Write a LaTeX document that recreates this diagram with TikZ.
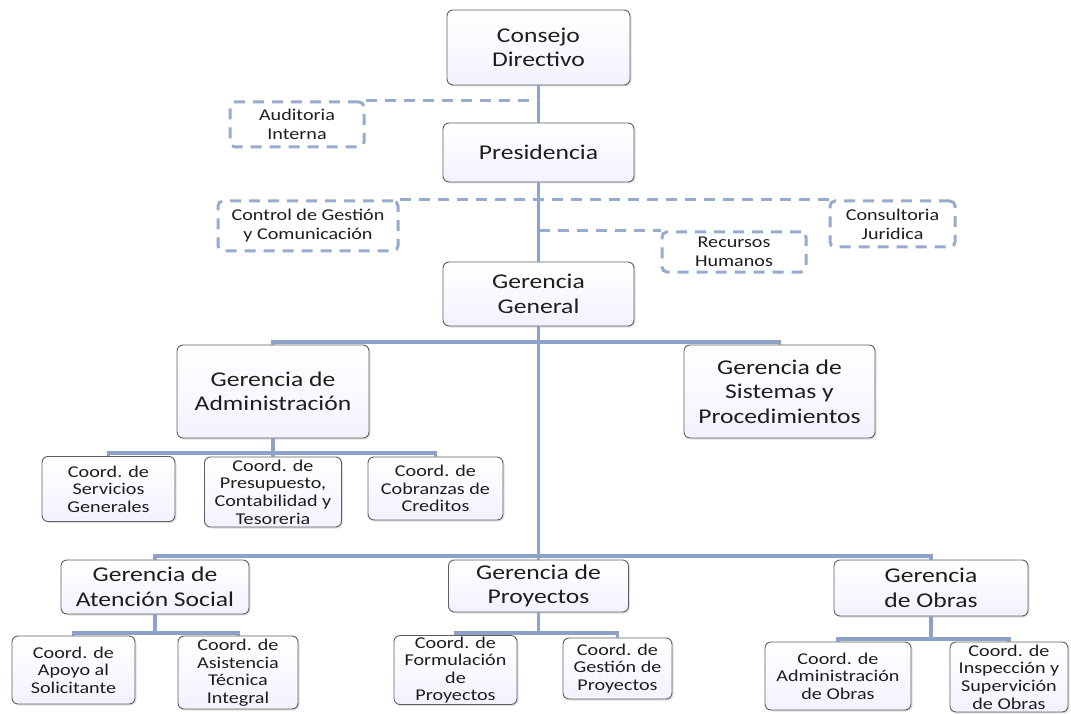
\documentclass[tikz,border=0pt]{standalone}
\usepackage{fontspec}
\setmainfont[FakeStretch=1.22]{Carlito}
\usetikzlibrary{shadows}
\definecolor{linea}{RGB}{140,162,198}
\definecolor{tratto}{RGB}{150,172,206}
\definecolor{bordo}{RGB}{95,95,95}
\definecolor{testo}{RGB}{30,30,30}
\tikzset{
  ufficio/.style={draw=bordo, line width=0.9pt, rounded corners=6pt,
    top color=white, bottom color=blue!5!white, align=center, inner sep=1pt,
    text=testo, drop shadow={shadow xshift=1.5pt, shadow yshift=-1.5pt, opacity=0.25}},
  grande/.style={ufficio, font=\fontsize{21}{24.5}\selectfont},
  piccolo/.style={ufficio, font=\fontsize{16.5}{17.6}\selectfont},
  staff/.style={draw=tratto, line width=3pt, dash pattern=on 11pt off 8pt,
    rounded corners=5pt, fill=white, align=center, inner sep=1pt, text=testo,
    font=\fontsize{16.5}{19}\selectfont},
  ramo/.style={draw=linea, line width=3.5pt},
  ramostaff/.style={draw=tratto, line width=3pt, dash pattern=on 11pt off 8pt},
}
\begin{document}
\begin{tikzpicture}[x=1pt, y=-1pt]
  \useasboundingbox (0,0) rectangle (1071,714);
  % direzione
  \node[grande, minimum width=183, minimum height=75] (consejo) at (538.5,47.5) {Consejo\\Directivo};
  \node[grande, minimum width=191, minimum height=59] (presid) at (538.5,152.5) {Presidencia};
  \node[grande, minimum width=191, minimum height=64] (gergen) at (538.5,294) {Gerencia\\General};
  % staff
  \node[staff, minimum width=134, minimum height=45] (audit) at (297,124.5) {Auditoria\\Interna};
  \node[staff, minimum width=180, minimum height=50] (control) at (308,226) {Control de Gestión\\y Comunicación};
  \node[staff, minimum width=125, minimum height=46] (juridica) at (892.5,224) {Consultoria\\Juridica};
  \node[staff, minimum width=144, minimum height=40] (rrhh) at (734,252) {Recursos\\Humanos};
  % gerencie
  \node[grande, minimum width=192, minimum height=93] (geradm) at (273,391.5) {Gerencia de\\Administración};
  \node[grande, minimum width=191, minimum height=93] (gersis) at (779.5,391.5) {Gerencia de\\Sistemas y\\Procedimientos};
  \node[grande, minimum width=188, minimum height=54] (gerate) at (155,587) {Gerencia de\\Atención Social};
  \node[grande, minimum width=180, minimum height=52] (gerpro) at (538.5,586) {Gerencia de\\Proyectos};
  \node[grande, minimum width=194, minimum height=56] (gerobr) at (931,588) {Gerencia\\de Obras};
  % coordinazioni
  \node[piccolo, minimum width=133, minimum height=65] (servicios) at (108.5,489) {Coord. de\\Servicios\\Generales};
  \node[piccolo, minimum width=137, minimum height=70] (presup) at (273,492) {Coord. de\\Presupuesto,\\Contabilidad y\\Tesoreria};
  \node[piccolo, minimum width=135, minimum height=63] (cobranzas) at (435.5,488.5) {Coord. de\\Cobranzas de\\Creditos};
  \node[piccolo, minimum width=123, minimum height=68] (apoyo) at (73.5,670) {Coord. de\\Apoyo al\\Solicitante};
  \node[piccolo, minimum width=120, minimum height=73] (asist) at (238,672.5) {Coord. de\\Asistencia\\Técnica\\Integral};
  \node[piccolo, minimum width=123, minimum height=68] (formul) at (455.5,670) {Coord. de\\Formulación\\de\\Proyectos};
  \node[piccolo, minimum width=109, minimum height=61] (gestion) at (617.5,668.5) {Coord. de\\Gestión de\\Proyectos};
  \node[piccolo, minimum width=146, minimum height=68] (admobr) at (838,676) {Coord. de\\Administración\\de Obras};
  \node[piccolo, minimum width=118, minimum height=70] (inspec) at (1009,677) {Coord. de\\Inspección y\\Supervición\\de Obras};
  % punti di raccordo
  \coordinate (bus1) at (538.5,342);
  \coordinate (bus2) at (538.5,556);
  \coordinate (bus3) at (273,453);
  \coordinate (bus4) at (155,633);
  \coordinate (bus5) at (538.5,633);
  \coordinate (bus6) at (931,639);
  \coordinate (st1) at (538.5,101);
  \coordinate (st2) at (538.5,232);
  % collegamenti
  \draw[ramo] (consejo) -- (presid);
  \draw[ramo] (presid) -- (gergen);
  \draw[ramo] (gergen) -- (gerpro);
  \draw[ramo] (geradm.north) |- (bus1) -| (gersis.north);
  \draw[ramo] (gerate.north) |- (bus2) -| (gerobr.north);
  \draw[ramo] (geradm) -- (presup);
  \draw[ramo] (servicios.north) |- (bus3) -| (cobranzas.north);
  \draw[ramo] (gerate.south) -- (bus4);
  \draw[ramo] (apoyo.north) |- (bus4) -| (asist.north);
  \draw[ramo] (formul.north) |- (bus5) -| (gestion.north);
  \draw[ramo] (gerpro.south) -- (bus5);
  \draw[ramo] (gerobr.south) -- (bus6);
  \draw[ramo] (admobr.north) |- (bus6) -| (inspec.north);
  \draw[ramostaff] (audit.north east) -- (audit.north east -| st1);
  \draw[ramostaff] (control.north east) -- (control.north east -| juridica.north west);
  \draw[ramostaff] (rrhh.north west -| st2) -- (rrhh.north west);
\end{tikzpicture}
\end{document}
